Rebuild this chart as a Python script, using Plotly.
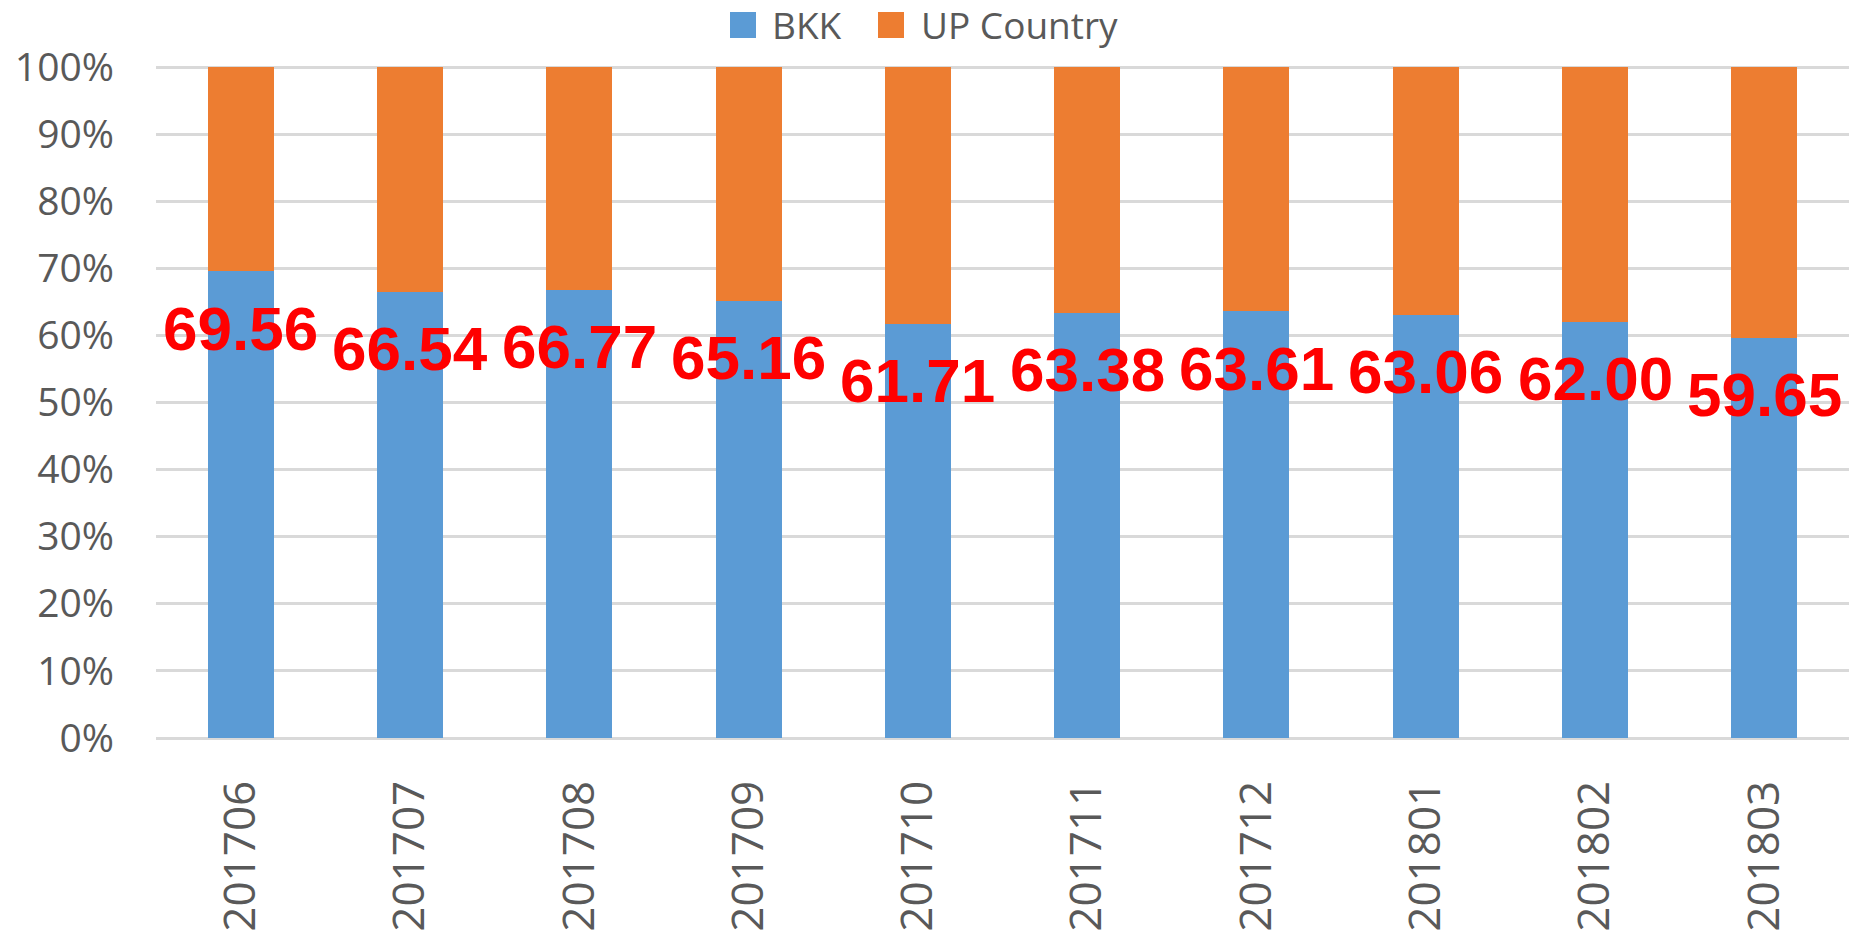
import plotly.graph_objects as go

months = ["201706", "201707", "201708", "201709", "201710",
          "201711", "201712", "201801", "201802", "201803"]
bkk = [69.56, 66.54, 66.77, 65.16, 61.71, 63.38, 63.61, 63.06, 62.00, 59.65]
up_country = [30.44, 33.46, 33.23, 34.84, 38.29, 36.62, 36.39, 36.94, 38.00, 40.35]

BLUE = "#5B9BD5"
ORANGE = "#ED7D31"
GRAY_TEXT = "#595959"
GRID = "#D9D9D9"

W, H = 1865, 938
L, R, T, B = 156, 16, 65, 200
PW, PH = W - L - R, H - T - B
YMAX = 100.3


def px_x(px):
    return (px - L) / PW


def px_y(py):
    return (H - B - py) / PH


fig = go.Figure()
fig.add_trace(go.Bar(x=months, y=bkk, name="BKK", marker=dict(color=BLUE, line=dict(width=0))))
fig.add_trace(go.Bar(x=months, y=up_country, name="UP Country", marker=dict(color=ORANGE, line=dict(width=0))))

annotations = []
for i, v in enumerate(bkk):
    annotations.append(dict(
        x=i, y=v, xref="x", yref="y", text=f"{v:.2f}", showarrow=False,
        yanchor="middle", xanchor="center", yshift=-57,
        font=dict(family="Liberation Sans, Arial, sans-serif", size=62, color="#FF0000", weight="bold"),
    ))

# custom legend
legend_items = [("BKK", BLUE, 730, 770), ("UP Country", ORANGE, 878, 919)]
shapes = []
for name, col, sx, tx in legend_items:
    shapes.append(dict(type="rect", xref="paper", yref="paper",
                       x0=px_x(sx), x1=px_x(sx + 26), y0=px_y(38), y1=px_y(12),
                       fillcolor=col, line=dict(width=0), layer="above"))
    annotations.append(dict(
        x=px_x(tx), y=px_y(25), xref="paper", yref="paper", text=name, showarrow=False,
        xanchor="left", yanchor="middle",
        font=dict(family="Open Sans, sans-serif", size=37, color=GRAY_TEXT),
    ))

fig.update_layout(
    width=W, height=H,
    barmode="stack", bargap=0.61,
    plot_bgcolor="white", paper_bgcolor="white",
    margin=dict(l=L, r=R, t=T, b=B, pad=0, autoexpand=False),
    showlegend=False,
    annotations=annotations,
    shapes=shapes,
    xaxis=dict(
        type="category", tickangle=-90, showgrid=False, showline=False, zeroline=False,
        range=[-0.5, len(months) - 0.5],
        tickfont=dict(family="Open Sans, sans-serif", size=44, color=GRAY_TEXT),
        ticks="", ticklabelstandoff=33, automargin=False,
    ),
    yaxis=dict(
        range=[0, YMAX], tick0=0, dtick=10, ticksuffix="%",
        showgrid=True, gridcolor=GRID, gridwidth=3,
        zeroline=True, zerolinecolor=GRID, zerolinewidth=3,
        showline=False, ticks="",
        tickfont=dict(family="Open Sans, sans-serif", size=39, color=GRAY_TEXT),
        ticklabelstandoff=41, automargin=False,
    ),
)

fig.write_html(
    "out.html",
    config={"displayModeBar": False},
    post_script="document.body.style.margin='0';document.body.style.overflow='hidden';",
)
